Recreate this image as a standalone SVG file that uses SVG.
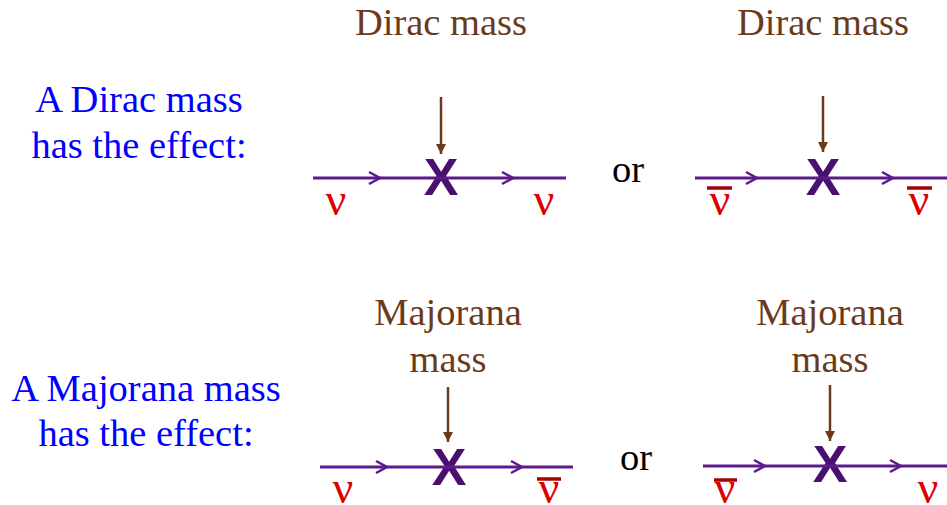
<svg xmlns="http://www.w3.org/2000/svg" width="947" height="505" viewBox="0 0 947 505">
<defs>
<marker id="ah" viewBox="0 0 10 10" refX="10" refY="5" markerWidth="10" markerHeight="10" markerUnits="userSpaceOnUse" orient="auto">
<path d="M0,0 L10,5 L0,10 Z" fill="#6b3a1a"/>
</marker>
<style>
.lbl{font-family:"Liberation Serif","Times New Roman",serif;font-size:38.5px;text-anchor:middle}
.brown{fill:#6b3a1a}
.blue{fill:#0000ff}
.blk{fill:#000}
.nu{font-family:"Liberation Serif","Times New Roman",serif;font-size:46px;fill:#dd0000;text-anchor:middle}
.x{font-family:"Liberation Sans",Arial,sans-serif;font-size:52px;font-weight:bold;fill:#4a1070;text-anchor:middle}
.prop{stroke:#5c1a8c;stroke-width:3;fill:none}
.chev{stroke:#5c1a8c;stroke-width:2.5;fill:none;stroke-linejoin:miter}
.mass{stroke:#6b3a1a;stroke-width:2.5;fill:none}
.bar{stroke:#aa0000;stroke-width:3.5}
</style>
</defs>

<g id="labels">
<text class="lbl blue" x="139" y="112">A Dirac mass</text>
<text class="lbl blue" x="139" y="158">has the effect:</text>
<text class="lbl blue" x="146" y="401">A Majorana mass</text>
<text class="lbl blue" x="146" y="446">has the effect:</text>
<text class="lbl blk" x="628" y="182">or</text>
<text class="lbl blk" x="636" y="470">or</text>
</g>

<g id="diagram1">
<text class="lbl brown" x="441" y="35">Dirac mass</text>
<text class="x" x="441" y="195">X</text>
<text class="nu" x="336" y="215">ν</text>
<text class="nu" x="544" y="215">ν</text>
</g>

<g id="diagram2">
<text class="lbl brown" x="823" y="35">Dirac mass</text>
<text class="x" x="823" y="195">X</text>
<text class="nu" x="720" y="215">ν</text>
<line class="bar" x1="707" y1="188" x2="732" y2="188"/>
<text class="nu" x="919" y="215">ν</text>
<line class="bar" x1="907" y1="188" x2="932" y2="188"/>
</g>

<g id="diagram3">
<text class="lbl brown" x="448" y="325">Majorana</text>
<text class="lbl brown" x="448" y="372">mass</text>
<text class="x" x="449" y="485">X</text>
<text class="nu" x="343" y="503">ν</text>
<text class="nu" x="549" y="503">ν</text>
<line class="bar" x1="537" y1="479" x2="561" y2="479"/>
</g>

<g id="diagram4">
<text class="lbl brown" x="830" y="325">Majorana</text>
<text class="lbl brown" x="830" y="372">mass</text>
<text class="x" x="830" y="482">X</text>
<text class="nu" x="725" y="503">ν</text>
<line class="bar" x1="714" y1="480" x2="737" y2="480"/>
<text class="nu" x="928" y="503">ν</text>
</g>

<g id="connectors">
<line class="prop" x1="313" y1="178" x2="566" y2="178"/>
<path class="chev" d="M369,172 L380,178 L369,184 M502,172 L513,178 L502,184"/>
<line class="mass" x1="441" y1="97" x2="441" y2="154" marker-end="url(#ah)"/>

<line class="prop" x1="695" y1="178" x2="947" y2="178"/>
<path class="chev" d="M746,172 L757,178 L746,184 M882,172 L893,178 L882,184"/>
<line class="mass" x1="823" y1="96" x2="823" y2="152" marker-end="url(#ah)"/>

<line class="prop" x1="320" y1="467" x2="573" y2="467"/>
<path class="chev" d="M376,461 L387,467 L376,473 M511,461 L522,467 L511,473"/>
<line class="mass" x1="448" y1="387" x2="448" y2="442" marker-end="url(#ah)"/>

<line class="prop" x1="703" y1="466" x2="947" y2="466"/>
<path class="chev" d="M754,460 L765,466 L754,472 M890,460 L901,466 L890,472"/>
<line class="mass" x1="830" y1="385" x2="830" y2="441" marker-end="url(#ah)"/>
</g>
</svg>
